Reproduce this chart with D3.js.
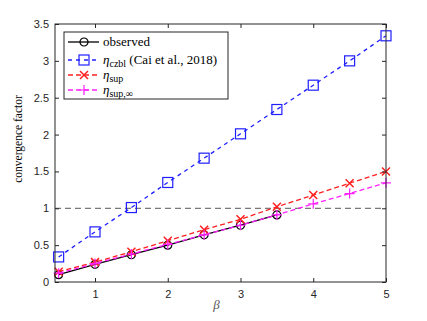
<!DOCTYPE html>
<html>
<head>
<meta charset="utf-8">
<script src="https://cdn.jsdelivr.net/npm/d3@7"></script>
<style>
  body { margin: 0; background: #fff; }
  svg { display: block; }
  .tick text { font-family: "Liberation Sans", Arial, sans-serif; font-size: 11px; fill: #262626; }
</style>
</head>
<body>
<svg id="chart" width="427" height="321"></svg>
<script>
// data
var beta = [0.5, 1, 1.5, 2, 2.5, 3, 3.5, 4, 4.5, 5];
var observed = [0.10, 0.24, 0.37, 0.50, 0.64, 0.77, 0.91];
var etaCzbl = [0.34, 0.68, 1.01, 1.35, 1.68, 2.01, 2.34, 2.67, 3.00, 3.34];
var etaSup = [0.14, 0.27, 0.41, 0.56, 0.71, 0.85, 1.02, 1.18, 1.34, 1.50];
var etaSupInf = [0.12, 0.25, 0.38, 0.51, 0.64, 0.77, 0.91, 1.06, 1.20, 1.345];
var xTicks = [1, 2, 3, 4, 5];
var yTicks = [0, 0.5, 1, 1.5, 2, 2.5, 3, 3.5];

var svg = d3.select('#chart');
var margin = { top: 24, right: 41, bottom: 39, left: 55 };
var width = 427 - margin.left - margin.right;
var height = 321 - margin.top - margin.bottom;
var axisColor = '#262626';

var x = d3.scaleLinear().domain([0.45, 5]).range([0, width]);
var y = d3.scaleLinear().domain([0, 3.5]).range([height, 0]);

var g = svg.append('g').attr('transform', `translate(${margin.left},${margin.top})`);

// reference line at 1
g.append('line')
  .attr('x1', 0).attr('x2', width)
  .attr('y1', y(1)).attr('y2', y(1))
  .style('stroke', '#555')
  .style('stroke-width', 1)
  .style('stroke-dasharray', '6,4');

var series = [
  { name: 'observed', vals: observed, color: '#000', dash: null, marker: 'circle' },
  { name: 'czbl', vals: etaCzbl, color: '#1f1fff', dash: '4,4', marker: 'square' },
  { name: 'sup', vals: etaSup, color: '#ff1f1f', dash: '5,3', marker: 'x' },
  { name: 'supinf', vals: etaSupInf, color: '#ff1fff', dash: '5,3', marker: 'plus' }
];

var line = d3.line().x(d => x(d[0])).y(d => y(d[1]));

function drawMarker(sel, type, color) {
  if (type == 'circle') {
    sel.append('circle').attr('r', 4).style('fill', 'none').style('stroke', color).style('stroke-width', 1.2);
  } else if (type == 'square') {
    sel.append('rect').attr('x', -5).attr('y', -5).attr('width', 10).attr('height', 10)
      .style('fill', 'none').style('stroke', color).style('stroke-width', 1.2);
  } else if (type == 'x') {
    sel.append('path').attr('d', 'M-4,-4L4,4M-4,4L4,-4').style('stroke', color).style('stroke-width', 1.5);
  } else {
    sel.append('path').attr('d', 'M-5,0L5,0M0,-5L0,5').style('stroke', color).style('stroke-width', 1.2);
  }
}

series.forEach(s => {
  var pts = s.vals.map((v, i) => [beta[i], v]);
  g.append('path')
    .datum(pts)
    .style('fill', 'none')
    .style('stroke', s.color)
    .style('stroke-width', 1.3)
    .style('stroke-dasharray', s.dash)
    .attr('d', line);
  pts.forEach(p => {
    var m = g.append('g').attr('transform', `translate(${x(p[0])},${y(p[1])})`);
    drawMarker(m, s.marker, s.color);
  });
});

// axes with inward ticks, box on
function styleAxis(sel) {
  sel.select('.domain').remove();
  sel.selectAll('.tick line').style('stroke', axisColor);
}
g.append('g').attr('transform', `translate(0,${height})`)
  .call(d3.axisBottom(x).tickValues(xTicks).tickSize(-4).tickPadding(8).tickFormat(d3.format('d')))
  .call(styleAxis);
g.append('g').call(d3.axisTop(x).tickValues(xTicks).tickSize(-4).tickFormat(''))
  .call(styleAxis);
g.append('g')
  .call(d3.axisLeft(y).tickValues(yTicks).tickSize(-4).tickPadding(6).tickFormat(d => d))
  .call(styleAxis);
g.append('g').attr('transform', `translate(${width},0)`)
  .call(d3.axisRight(y).tickValues(yTicks).tickSize(-4).tickFormat(''))
  .call(styleAxis);
g.append('rect')
  .attr('width', width).attr('height', height)
  .style('fill', 'none').style('stroke', axisColor).style('stroke-width', 1);

// axis labels
svg.append('text')
  .attr('transform', 'translate(22,139) rotate(-90)')
  .attr('text-anchor', 'middle')
  .style('font-family', '"Liberation Serif", serif')
  .style('font-size', '11.5px')
  .text('convergence factor');
svg.append('text')
  .attr('x', margin.left + width / 2 - 4)
  .attr('y', 309)
  .attr('text-anchor', 'middle')
  .style('font-family', '"Liberation Serif", serif')
  .style('font-style', 'italic')
  .style('font-size', '13px')
  .style('fill', '#555')
  .text('β');

// legend
var lg = g.append('g').attr('transform', 'translate(9,8)');
lg.append('rect').attr('width', 164).attr('height', 67)
  .style('fill', '#fff').style('stroke', axisColor).style('stroke-width', 1);
var rowY = [10, 28, 43, 58];
var labels = [
  [{ t: 'observed' }],
  [{ t: 'η', i: true }, { t: 'czbl', sub: true }, { t: ' (Cai et al., 2018)' }],
  [{ t: 'η', i: true }, { t: 'sup', sub: true }],
  [{ t: 'η', i: true }, { t: 'sup,∞', sub: true }]
];
series.forEach((s, k) => {
  var row = lg.append('g').attr('transform', `translate(0,${rowY[k]})`);
  row.append('line').attr('x1', 4).attr('x2', 35)
    .style('stroke', s.color).style('stroke-width', 1.3)
    .style('stroke-dasharray', s.dash);
  var m = row.append('g').attr('transform', 'translate(20,0)');
  drawMarker(m, s.marker, s.color);
  var txt = row.append('text').attr('x', 39).attr('y', 4)
    .style('font-family', '"Liberation Serif", serif')
    .style('font-size', '13px');
  labels[k].forEach(p => {
    var ts = txt.append('tspan').text(p.t);
    if (p.i) ts.style('font-style', 'italic');
    if (p.sub) ts.attr('dy', 3).style('font-size', '10px');
    else if (txt.selectAll('tspan').size() > 1) ts.attr('dy', -3);
  });
});
</script>
</body>
</html>
